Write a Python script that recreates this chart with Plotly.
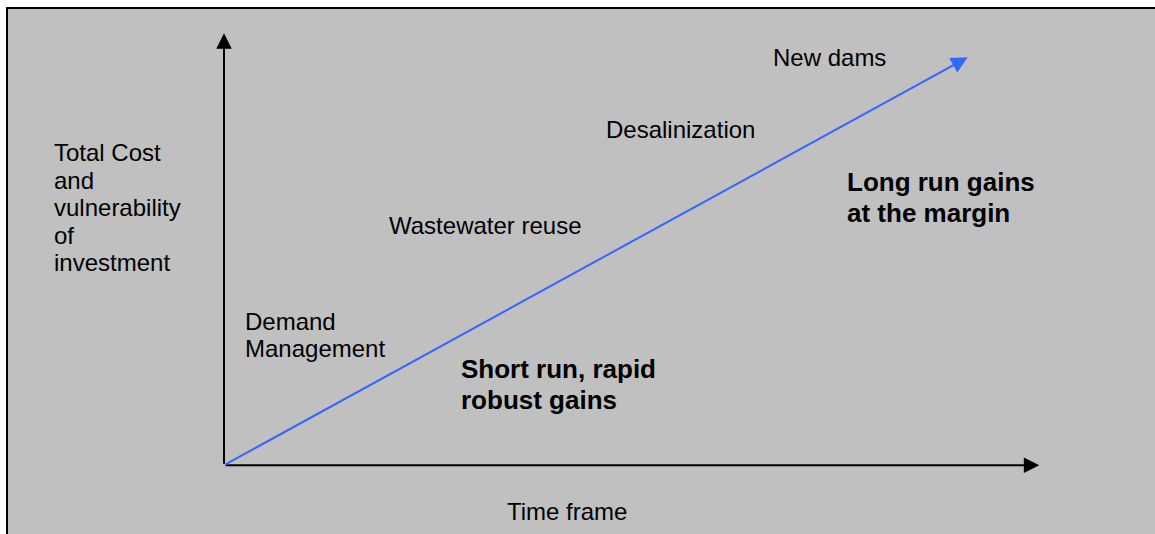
import plotly.graph_objects as go

# ---- data (diagram units: time on x, cost on y; origin at 0,0) ----
axis_extent_x = [0, 10]          # time-frame axis
axis_extent_y = [0, 10]          # cost axis
trend_x = [0, 9.122]             # blue trend line start/end
trend_y = [0, 9.444]

stage_names = ["Demand<br>Management", "Wastewater reuse", "Desalinization", "New dams"]
stage_time = [0.233, 1.999, 4.661, 6.709]
stage_cost = [3.316, 5.561, 7.784, 9.451]

gain_labels = ["Short run, rapid<br>robust gains", "Long run gains<br>at the margin"]
gain_time = [2.882, 7.615]
gain_cost = [2.227, 6.557]

y_title = "Total Cost<br>and<br>vulnerability<br>of<br>investment"
y_title_pos = [-2.110, 7.229]
x_title = "Time frame"
x_title_pos = [4.207, -1.083]

# view window in diagram units
x_view = [-2.7474, 11.419]
y_view = [-1.593, 10.771]

FONT = "Liberation Sans, Arial, sans-serif"
BG = "#C0C0C0"
BLUE = "#3366FF"

fig = go.Figure()

annotations = []

def arrow(x0, y0, x1, y1, color, size):
    annotations.append(dict(
        x=x1, y=y1, ax=x0, ay=y0, xref="x", yref="y", axref="x", ayref="y",
        text="", showarrow=True, arrowhead=2, arrowsize=size, arrowwidth=2,
        arrowcolor=color, standoff=0, startstandoff=0))

# axes
arrow(axis_extent_x[0], 0, axis_extent_x[1], 0, "black", 1.55)
arrow(0, axis_extent_y[0], 0, axis_extent_y[1], "black", 1.55)
# trend line
arrow(trend_x[0], trend_y[0], trend_x[1], trend_y[1], BLUE, 1.65)

def multiline(text, x, y, size, bold, spacing, xanchor="left"):
    for i, line in enumerate(text.split("<br>")):
        annotations.append(dict(
            x=x, y=y, xref="x", yref="y", text=("<b>%s</b>" % line) if bold else line,
            showarrow=False, xanchor=xanchor, yanchor="middle", yshift=-i * spacing,
            font=dict(family=FONT, size=size, color="black")))

for name, t, c in zip(stage_names, stage_time, stage_cost):
    multiline(name, t, c, 24, False, 27)

for name, t, c in zip(gain_labels, gain_time, gain_cost):
    multiline(name, t, c, 26, True, 31)

multiline(y_title, y_title_pos[0], y_title_pos[1], 24, False, 27.5)
multiline(x_title, x_title_pos[0], x_title_pos[1], 24, False, 27, xanchor="center")

fig.update_layout(
    width=1155, height=534,
    margin=dict(l=0, r=0, t=0, b=0),
    paper_bgcolor="white",
    plot_bgcolor="rgba(0,0,0,0)",
    showlegend=False,
    annotations=annotations,
    shapes=[dict(type="rect", xref="paper", yref="paper",
                 x0=7 / 1155, x1=1.02, y0=-0.02, y1=1 - 8 / 534,
                 fillcolor=BG, line=dict(color="black", width=2), layer="below")],
    xaxis=dict(range=x_view, visible=False, fixedrange=True),
    yaxis=dict(range=y_view, visible=False, fixedrange=True),
)

fig.write_html(
    "out.html",
    config={"displayModeBar": False},
    post_script="document.body.style.margin='0';document.body.style.overflow='hidden';",
)
